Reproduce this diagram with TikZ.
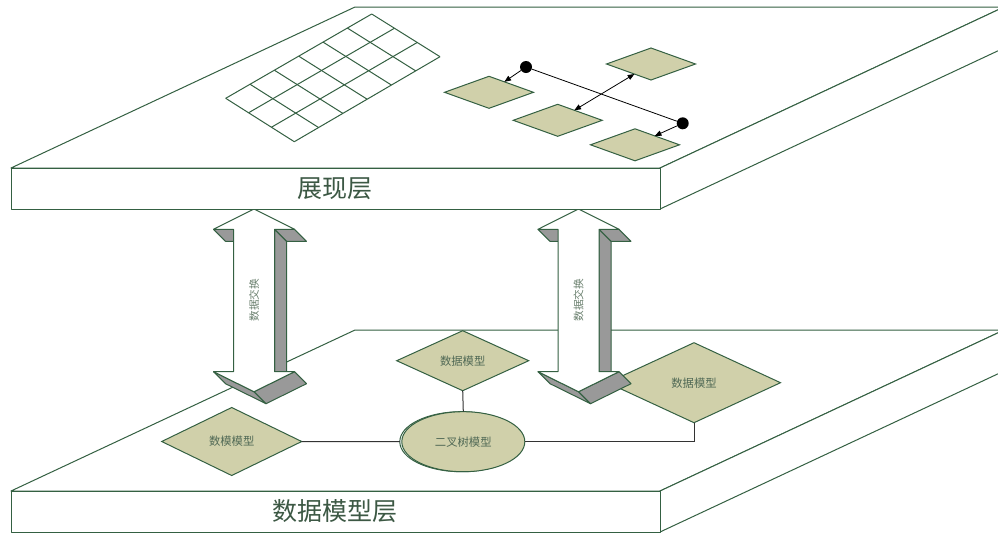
\documentclass[tikz,border=0pt]{standalone}
\usepackage{fontspec}
\newfontfamily\cjk{Noto Sans CJK SC}
\usetikzlibrary{shapes.geometric,arrows.meta,calc}
\definecolor{lg}{RGB}{52,96,66}
\definecolor{khaki}{RGB}{208,208,170}
\definecolor{shade}{RGB}{153,153,153}
\definecolor{txt}{RGB}{80,105,85}
\definecolor{slabtxt}{RGB}{60,88,68}
\newcommand\drawslab[3]{%
  \begin{scope}[shift={(0,#1)}]
    \path[slab] (11,168) -- (355,7) -- (1004,7) -- (660,168) -- cycle;
    \path[slab] (660,168) -- (1004,7) -- (1004,48) -- (660,209) -- cycle;
    \path[slab] (11,168) rectangle (660,209);
    \node[layertext] (#2) at (335,188.5) {#3};
  \end{scope}}
\newcommand\exchangearrow[2]{%
  \begin{scope}[shift={(#1,0)}]
    \path[side] (-40.5,229.3) -- (-20.5,229.3) -- (-8.5,241.3) -- (-28.5,241.3) -- cycle;
    \path[side] (40.5,229.3) -- (20.5,229.3) -- (32.5,241.3) -- (52.5,241.3) -- cycle;
    \path[side] (20.5,229.3) -- (20.5,371.7) -- (32.5,383.7) -- (32.5,241.3) -- cycle;
    \path[side] (0,391.7) -- (-40.5,371.7) -- (-28.5,383.7) -- (12,403.7) -- cycle;
    \path[side] (40.5,371.7) -- (0,391.7) -- (12,403.7) -- (52.5,383.7) -- cycle;
    \path[front] (0,209) -- (40.5,229.3) -- (20.5,229.3) -- (20.5,371.7) -- (40.5,371.7)
      -- (0,391.7) -- (-40.5,371.7) -- (-20.5,371.7) -- (-20.5,229.3) -- (-40.5,229.3) -- cycle;
    \node[xtext] (#2) at (0,300) {数据交换};
  \end{scope}}
\begin{document}
\begin{tikzpicture}[x=0.75pt,y=-0.75pt,
  slab/.style={draw=lg,fill=white,line width=0.75pt,line join=round},
  gridline/.style={draw=lg,line width=0.75pt},
  flat/.style={diamond,draw=lg,fill=khaki,line width=0.75pt,inner sep=0pt,outer sep=0pt,minimum width=66.75pt,minimum height=24pt},
  model/.style={diamond,draw=lg,fill=khaki,line width=0.75pt,inner sep=0pt,outer sep=0pt,font=\cjk\fontsize{8.5}{10}\selectfont,text=txt},
  treenode/.style={ellipse,draw=lg,line width=0.75pt,inner sep=0pt,outer sep=0pt,minimum width=92.25pt,minimum height=45pt,font=\cjk\fontsize{8.5}{10}\selectfont,text=txt},
  dot/.style={circle,fill=black,inner sep=0pt,minimum size=9pt},
  link/.style={draw=black,line width=0.6pt},
  tipend/.style={-{Triangle[length=5pt,width=4pt]}},
  tipboth/.style={{Triangle[length=5pt,width=4pt]}-{Triangle[length=5pt,width=4pt]}},
  wire/.style={draw=black!80,line width=0.75pt},
  side/.style={fill=shade,draw=lg,line width=0.75pt,line join=round},
  front/.style={fill=white,draw=lg,line width=0.75pt,line join=round},
  layertext/.style={font=\cjk\fontsize{18.75}{20}\selectfont,text=slabtxt},
  xtext/.style={font=\cjk\fontsize{8}{9}\selectfont,text=txt!85,rotate=90,inner sep=0pt}
]
\useasboundingbox (0,0) rectangle (998,533);
\clip (0,0) rectangle (998,533);
\fill[white] (0,0) rectangle (998,533);

% bottom layer
\drawslab{323}{lowlabel}{数据模型层}
\node[model,minimum width=99pt,minimum height=45pt] (m1) at (462.7,360.7) {数据模型};
\node[model,minimum width=105pt,minimum height=51pt] (m2) at (231.7,441.5) {数模模型};
\node[model,minimum width=129.75pt,minimum height=60pt] (m3) at (694,382.7) {数据模型};
\node[treenode] (treeback) at (461.3,441.7) {};
\node[treenode,fill=khaki] (tree) at (463.3,441.7) {二叉树模型};
\draw[wire] (m1.south) -- (tree.north);
\draw[wire] (m2.east) -- (treeback.west);
\draw[wire] (tree.east) -| (m3.south);

% exchange arrows
\exchangearrow{254}{xa}
\exchangearrow{578.5}{xb}

% top layer
\drawslab{0}{toplabel}{展现层}
\coordinate (gL) at (225.7,98.3);
\coordinate (gT) at (371.7,14);
\coordinate (gB) at (294.3,141.7);
\coordinate (gR) at (440,56.7);
\foreach \i in {0,...,6} \draw[gridline] ($(gL)!\i/6!(gT)$) -- ($(gB)!\i/6!(gR)$);
\foreach \j in {0,...,3} \draw[gridline] ($(gL)!\j/3!(gB)$) -- ($(gT)!\j/3!(gR)$);

\node[flat] (d1) at (489,92.3) {};
\node[flat] (d2) at (557.7,120.3) {};
\node[flat] (d3) at (651,64) {};
\node[flat] (d4) at (635,144.8) {};
\node[dot] (p1) at (526,67) {};
\node[dot] (p2) at (682.7,123.3) {};
\draw[link] (p1) -- (p2);
\draw[link,tipend] (p1) -- (d1);
\draw[link,tipend] (p2) -- (d4);
\draw[link,tipboth] (d2) -- (d3);
\end{tikzpicture}
\end{document}
